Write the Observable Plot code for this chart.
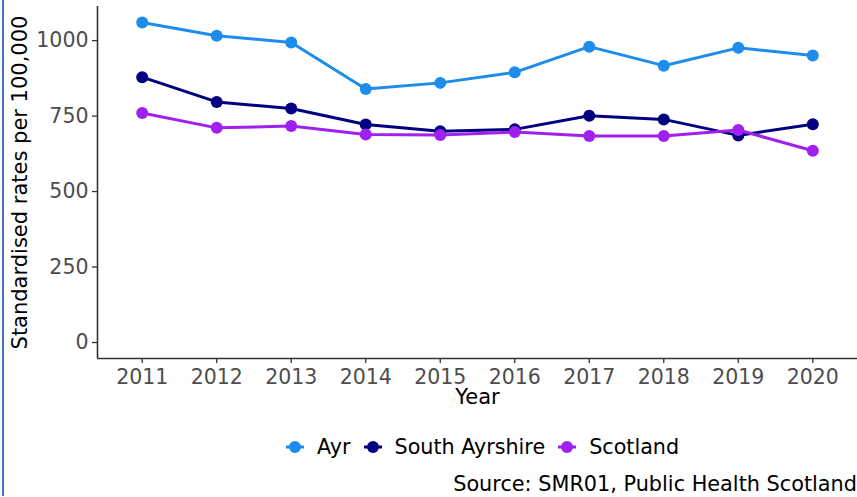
<!DOCTYPE html>
<html>
<head>
<meta charset="utf-8">
<script src="https://cdn.jsdelivr.net/npm/d3@7"></script>
<script src="https://cdn.jsdelivr.net/npm/@observablehq/plot@0.6"></script>
<style>
  html, body { margin: 0; padding: 0; background: #fff; }
  #wrap { position: relative; width: 857px; height: 497px; overflow: hidden; font-family: "DejaVu Sans", sans-serif; }
  #border { position: absolute; left: 2px; top: 0; width: 2px; height: 496px; background: #4472C4; }
  #chart { position: absolute; left: 0; top: 0; }
  #legend { position: absolute; top: 435px; left: 286px; display: flex; align-items: center; font-size: 20.7px; color: #000; white-space: nowrap; }
  #legend .item { display: flex; align-items: center; margin-right: 13px; }
  #legend svg { margin-right: 13px; }
  #caption { position: absolute; right: 0; top: 472px; font-size: 20.8px; color: #000; white-space: nowrap; }
</style>
</head>
<body>
<div id="wrap">
  <div id="border"></div>
  <div id="chart"></div>
  <div id="legend"></div>
  <div id="caption">Source: SMR01, Public Health Scotland</div>
</div>
<script>
const years = [2011, 2012, 2013, 2014, 2015, 2016, 2017, 2018, 2019, 2020];
const seriesNames = ["Ayr", "South Ayrshire", "Scotland"];
const seriesColors = ["#1E8CEB", "#000080", "#A020F0"];
const ayr = [1060, 1016, 994, 840, 860, 895, 980, 917, 976, 951];
const southAyrshire = [879, 797, 775, 722, 700, 706, 751, 739, 686, 723];
const scotland = [760, 711, 717, 689, 687, 697, 684, 684, 704, 635];
const yTicks = [0, 250, 500, 750, 1000];
const xLabel = "Year";
const yLabel = "Standardised rates per 100,000";

const valuesBySeries = [ayr, southAyrshire, scotland];
const data = [];
seriesNames.forEach((s, i) => years.forEach((yr, j) => data.push({series: s, year: yr, value: valuesBySeries[i][j]})));

const font = "DejaVu Sans, sans-serif";
const plot = Plot.plot({
  width: 857,
  height: 412,
  marginLeft: 97,
  marginRight: 0,
  marginTop: 6,
  marginBottom: 54,
  style: { fontFamily: font, fontSize: "20.5px", background: "transparent", overflow: "visible" },
  x: { type: "linear", domain: [2010.4, 2020.6] },
  y: { domain: [-53, 1113] },
  color: { domain: seriesNames, range: seriesColors },
  marks: [
    Plot.axisX({ ticks: years, tickFormat: d => String(d), tickSize: 5, tickPadding: 6, label: null, fill: "#4D4D4D", stroke: "#333", strokeWidth: 1.3 }),
    Plot.axisY({ ticks: yTicks, tickFormat: d => String(d), tickSize: 5, tickPadding: 4, label: null, fill: "#4D4D4D", stroke: "#333", strokeWidth: 1.3 }),
    Plot.ruleX([2010.4], { stroke: "#333", strokeWidth: 1.6 }),
    Plot.ruleY([-53], { stroke: "#333", strokeWidth: 1.6 }),
    Plot.line(data, { x: "year", y: "value", stroke: "series", strokeWidth: 3 }),
    Plot.dot(data, { x: "year", y: "value", fill: "series", r: 6, stroke: "none" }),
    Plot.text([yLabel], { frameAnchor: "left", textAnchor: "middle", rotate: -90, dx: -77, fill: "#000", fontSize: 21 }),
    Plot.text([xLabel], { frameAnchor: "bottom", textAnchor: "middle", dy: 45, fill: "#000", fontSize: 21 })
  ]
});
document.getElementById("chart").appendChild(plot);

const legend = document.getElementById("legend");
seriesNames.forEach((s, i) => {
  const item = document.createElement("div");
  item.className = "item";
  item.innerHTML = `<svg width="18" height="14"><line x1="0" x2="18" y1="7" y2="7" stroke="${seriesColors[i]}" stroke-width="3"/><circle cx="9" cy="7" r="6" fill="${seriesColors[i]}"/></svg><span>${s}</span>`;
  legend.appendChild(item);
});
</script>
</body>
</html>
